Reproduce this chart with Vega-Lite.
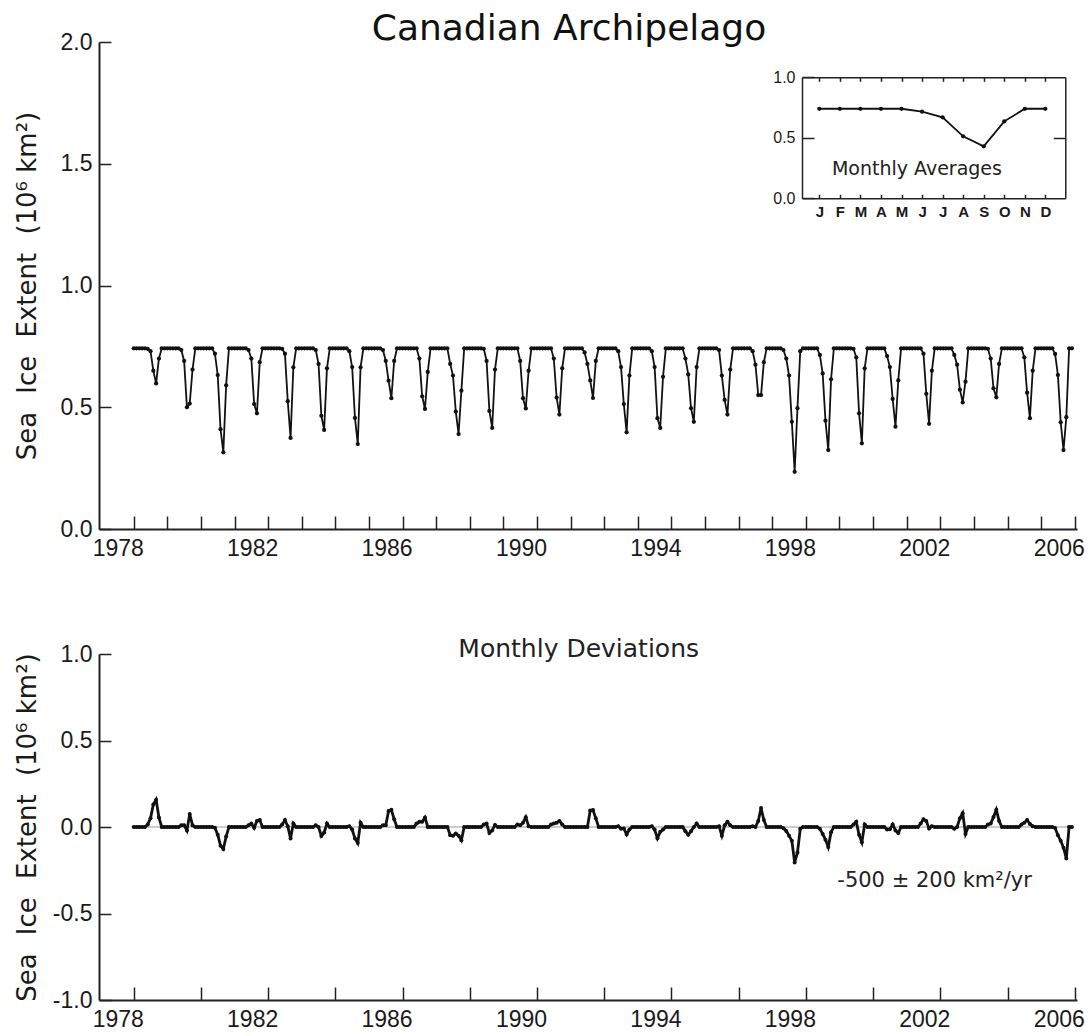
{
"$schema": "https://vega.github.io/schema/vega-lite/v6.json",
"background": "white",
"padding": {"left": 13, "top": 11, "right": 0, "bottom": 0},
"spacing": 77,
"config": {
  "view": {"stroke": null},
  "axis": {"grid": false, "domainColor": "#222", "tickColor": "#222", "labelColor": "#1a1a1a", "titleColor": "#1a1a1a", "labelFont": "Liberation Sans", "titleFont": "DejaVu Sans", "titleFontWeight": "normal", "domainWidth": 2, "tickWidth": 1.5, "labelFlush": false, "labelOverlap": false, "labelBound": false}
},
"datasets": {
"one": [{}],
"avg": [{"m":1,"a":0.74},{"m":2,"a":0.74},{"m":3,"a":0.74},{"m":4,"a":0.74},{"m":5,"a":0.74},{"m":6,"a":0.716},{"m":7,"a":0.669},{"m":8,"a":0.512},{"m":9,"a":0.43},{"m":10,"a":0.636},{"m":11,"a":0.74},{"m":12,"a":0.74}],
"ice": [
{"t":1978,"e":0.742,"d":0},{"t":1978.0833,"e":0.742,"d":0},{"t":1978.1667,"e":0.742,"d":0},{"t":1978.25,"e":0.742,"d":0},{"t":1978.3333,"e":0.742,"d":0},{"t":1978.4167,"e":0.74,"d":0.015},{"t":1978.5,"e":0.73,"d":0.05},{"t":1978.5833,"e":0.65,"d":0.13},{"t":1978.6667,"e":0.598,"d":0.158},{"t":1978.75,"e":0.7,"d":0.055},{"t":1978.8333,"e":0.742,"d":0},{"t":1978.9167,"e":0.742,"d":0},
{"t":1979,"e":0.742,"d":0},{"t":1979.0833,"e":0.742,"d":0},{"t":1979.1667,"e":0.742,"d":0},{"t":1979.25,"e":0.742,"d":0},{"t":1979.3333,"e":0.742,"d":0},{"t":1979.4167,"e":0.735,"d":0.01},{"t":1979.5,"e":0.69,"d":0.01},{"t":1979.5833,"e":0.5,"d":-0.02},{"t":1979.6667,"e":0.515,"d":0.075},{"t":1979.75,"e":0.655,"d":0.01},{"t":1979.8333,"e":0.742,"d":0},{"t":1979.9167,"e":0.742,"d":0},
{"t":1980,"e":0.742,"d":0},{"t":1980.0833,"e":0.742,"d":0},{"t":1980.1667,"e":0.742,"d":0},{"t":1980.25,"e":0.742,"d":0},{"t":1980.3333,"e":0.742,"d":0},{"t":1980.4167,"e":0.72,"d":-0.005},{"t":1980.5,"e":0.632,"d":-0.045},{"t":1980.5833,"e":0.41,"d":-0.108},{"t":1980.6667,"e":0.315,"d":-0.127},{"t":1980.75,"e":0.59,"d":-0.055},{"t":1980.8333,"e":0.742,"d":0},{"t":1980.9167,"e":0.742,"d":0},
{"t":1981,"e":0.742,"d":0},{"t":1981.0833,"e":0.742,"d":0},{"t":1981.1667,"e":0.742,"d":0},{"t":1981.25,"e":0.742,"d":0},{"t":1981.3333,"e":0.742,"d":0},{"t":1981.4167,"e":0.735,"d":0.01},{"t":1981.5,"e":0.7,"d":0.02},{"t":1981.5833,"e":0.513,"d":-0.005},{"t":1981.6667,"e":0.475,"d":0.035},{"t":1981.75,"e":0.685,"d":0.04},{"t":1981.8333,"e":0.742,"d":0},{"t":1981.9167,"e":0.742,"d":0},
{"t":1982,"e":0.742,"d":0},{"t":1982.0833,"e":0.742,"d":0},{"t":1982.1667,"e":0.742,"d":0},{"t":1982.25,"e":0.742,"d":0},{"t":1982.3333,"e":0.742,"d":0},{"t":1982.4167,"e":0.74,"d":0.015},{"t":1982.5,"e":0.72,"d":0.04},{"t":1982.5833,"e":0.525,"d":0.005},{"t":1982.6667,"e":0.374,"d":-0.066},{"t":1982.75,"e":0.664,"d":0.02},{"t":1982.8333,"e":0.742,"d":0},{"t":1982.9167,"e":0.742,"d":0},
{"t":1983,"e":0.742,"d":0},{"t":1983.0833,"e":0.742,"d":0},{"t":1983.1667,"e":0.742,"d":0},{"t":1983.25,"e":0.742,"d":0},{"t":1983.3333,"e":0.742,"d":0},{"t":1983.4167,"e":0.735,"d":0.01},{"t":1983.5,"e":0.678,"d":0},{"t":1983.5833,"e":0.465,"d":-0.052},{"t":1983.6667,"e":0.407,"d":-0.032},{"t":1983.75,"e":0.66,"d":0.02},{"t":1983.8333,"e":0.742,"d":0},{"t":1983.9167,"e":0.742,"d":0},
{"t":1984,"e":0.742,"d":0},{"t":1984.0833,"e":0.742,"d":0},{"t":1984.1667,"e":0.742,"d":0},{"t":1984.25,"e":0.742,"d":0},{"t":1984.3333,"e":0.742,"d":0},{"t":1984.4167,"e":0.73,"d":0.005},{"t":1984.5,"e":0.665,"d":-0.015},{"t":1984.5833,"e":0.456,"d":-0.066},{"t":1984.6667,"e":0.349,"d":-0.093},{"t":1984.75,"e":0.664,"d":0.025},{"t":1984.8333,"e":0.742,"d":0},{"t":1984.9167,"e":0.742,"d":0},
{"t":1985,"e":0.742,"d":0},{"t":1985.0833,"e":0.742,"d":0},{"t":1985.1667,"e":0.742,"d":0},{"t":1985.25,"e":0.742,"d":0},{"t":1985.3333,"e":0.742,"d":0},{"t":1985.4167,"e":0.735,"d":0.01},{"t":1985.5,"e":0.69,"d":0.01},{"t":1985.5833,"e":0.609,"d":0.092},{"t":1985.6667,"e":0.537,"d":0.099},{"t":1985.75,"e":0.69,"d":0.045},{"t":1985.8333,"e":0.742,"d":0},{"t":1985.9167,"e":0.742,"d":0},
{"t":1986,"e":0.742,"d":0},{"t":1986.0833,"e":0.742,"d":0},{"t":1986.1667,"e":0.742,"d":0},{"t":1986.25,"e":0.742,"d":0},{"t":1986.3333,"e":0.742,"d":0},{"t":1986.4167,"e":0.742,"d":0.02},{"t":1986.5,"e":0.7,"d":0.03},{"t":1986.5833,"e":0.545,"d":0.03},{"t":1986.6667,"e":0.493,"d":0.055},{"t":1986.75,"e":0.645,"d":0},{"t":1986.8333,"e":0.742,"d":0},{"t":1986.9167,"e":0.742,"d":0},
{"t":1987,"e":0.742,"d":0},{"t":1987.0833,"e":0.742,"d":0},{"t":1987.1667,"e":0.742,"d":0},{"t":1987.25,"e":0.742,"d":0},{"t":1987.3333,"e":0.742,"d":0},{"t":1987.4167,"e":0.678,"d":-0.047},{"t":1987.5,"e":0.63,"d":-0.05},{"t":1987.5833,"e":0.482,"d":-0.038},{"t":1987.6667,"e":0.39,"d":-0.05},{"t":1987.75,"e":0.568,"d":-0.077},{"t":1987.8333,"e":0.742,"d":0},{"t":1987.9167,"e":0.742,"d":0},
{"t":1988,"e":0.742,"d":0},{"t":1988.0833,"e":0.742,"d":0},{"t":1988.1667,"e":0.742,"d":0},{"t":1988.25,"e":0.742,"d":0},{"t":1988.3333,"e":0.742,"d":0},{"t":1988.4167,"e":0.74,"d":0.015},{"t":1988.5,"e":0.69,"d":0.02},{"t":1988.5833,"e":0.485,"d":-0.035},{"t":1988.6667,"e":0.415,"d":-0.02},{"t":1988.75,"e":0.655,"d":0.012},{"t":1988.8333,"e":0.742,"d":0},{"t":1988.9167,"e":0.742,"d":0},
{"t":1989,"e":0.742,"d":0},{"t":1989.0833,"e":0.742,"d":0},{"t":1989.1667,"e":0.742,"d":0},{"t":1989.25,"e":0.742,"d":0},{"t":1989.3333,"e":0.742,"d":0},{"t":1989.4167,"e":0.742,"d":0.015},{"t":1989.5,"e":0.69,"d":0.01},{"t":1989.5833,"e":0.537,"d":0.025},{"t":1989.6667,"e":0.495,"d":0.057},{"t":1989.75,"e":0.65,"d":0.005},{"t":1989.8333,"e":0.742,"d":0},{"t":1989.9167,"e":0.742,"d":0},
{"t":1990,"e":0.742,"d":0},{"t":1990.0833,"e":0.742,"d":0},{"t":1990.1667,"e":0.742,"d":0},{"t":1990.25,"e":0.742,"d":0},{"t":1990.3333,"e":0.742,"d":0},{"t":1990.4167,"e":0.742,"d":0.015},{"t":1990.5,"e":0.7,"d":0.02},{"t":1990.5833,"e":0.54,"d":0.025},{"t":1990.6667,"e":0.47,"d":0.035},{"t":1990.75,"e":0.66,"d":0.015},{"t":1990.8333,"e":0.742,"d":0},{"t":1990.9167,"e":0.742,"d":0},
{"t":1991,"e":0.742,"d":0},{"t":1991.0833,"e":0.742,"d":0},{"t":1991.1667,"e":0.742,"d":0},{"t":1991.25,"e":0.742,"d":0},{"t":1991.3333,"e":0.742,"d":0},{"t":1991.4167,"e":0.725,"d":0},{"t":1991.5,"e":0.678,"d":0},{"t":1991.5833,"e":0.61,"d":0.095},{"t":1991.6667,"e":0.538,"d":0.098},{"t":1991.75,"e":0.69,"d":0.05},{"t":1991.8333,"e":0.742,"d":0},{"t":1991.9167,"e":0.742,"d":0},
{"t":1992,"e":0.742,"d":0},{"t":1992.0833,"e":0.742,"d":0},{"t":1992.1667,"e":0.742,"d":0},{"t":1992.25,"e":0.742,"d":0},{"t":1992.3333,"e":0.742,"d":0},{"t":1992.4167,"e":0.73,"d":0.005},{"t":1992.5,"e":0.665,"d":-0.01},{"t":1992.5833,"e":0.513,"d":-0.008},{"t":1992.6667,"e":0.397,"d":-0.043},{"t":1992.75,"e":0.63,"d":-0.015},{"t":1992.8333,"e":0.742,"d":0},{"t":1992.9167,"e":0.742,"d":0},
{"t":1993,"e":0.742,"d":0},{"t":1993.0833,"e":0.742,"d":0},{"t":1993.1667,"e":0.742,"d":0},{"t":1993.25,"e":0.742,"d":0},{"t":1993.3333,"e":0.742,"d":0},{"t":1993.4167,"e":0.73,"d":0.005},{"t":1993.5,"e":0.665,"d":-0.015},{"t":1993.5833,"e":0.455,"d":-0.065},{"t":1993.6667,"e":0.415,"d":-0.028},{"t":1993.75,"e":0.625,"d":-0.015},{"t":1993.8333,"e":0.742,"d":0},{"t":1993.9167,"e":0.742,"d":0},
{"t":1994,"e":0.742,"d":0},{"t":1994.0833,"e":0.742,"d":0},{"t":1994.1667,"e":0.742,"d":0},{"t":1994.25,"e":0.742,"d":0},{"t":1994.3333,"e":0.742,"d":0},{"t":1994.4167,"e":0.7,"d":-0.025},{"t":1994.5,"e":0.635,"d":-0.045},{"t":1994.5833,"e":0.496,"d":-0.024},{"t":1994.6667,"e":0.44,"d":0},{"t":1994.75,"e":0.665,"d":0.02},{"t":1994.8333,"e":0.742,"d":0},{"t":1994.9167,"e":0.742,"d":0},
{"t":1995,"e":0.742,"d":0},{"t":1995.0833,"e":0.742,"d":0},{"t":1995.1667,"e":0.742,"d":0},{"t":1995.25,"e":0.742,"d":0},{"t":1995.3333,"e":0.742,"d":0},{"t":1995.4167,"e":0.735,"d":0.005},{"t":1995.5,"e":0.63,"d":-0.05},{"t":1995.5833,"e":0.53,"d":0.01},{"t":1995.6667,"e":0.47,"d":0.03},{"t":1995.75,"e":0.655,"d":0.01},{"t":1995.8333,"e":0.742,"d":0},{"t":1995.9167,"e":0.742,"d":0},
{"t":1996,"e":0.742,"d":0},{"t":1996.0833,"e":0.742,"d":0},{"t":1996.1667,"e":0.742,"d":0},{"t":1996.25,"e":0.742,"d":0},{"t":1996.3333,"e":0.742,"d":0},{"t":1996.4167,"e":0.73,"d":0.005},{"t":1996.5,"e":0.675,"d":0},{"t":1996.5833,"e":0.55,"d":0.035},{"t":1996.6667,"e":0.55,"d":0.11},{"t":1996.75,"e":0.685,"d":0.04},{"t":1996.8333,"e":0.742,"d":0},{"t":1996.9167,"e":0.742,"d":0},
{"t":1997,"e":0.742,"d":0},{"t":1997.0833,"e":0.742,"d":0},{"t":1997.1667,"e":0.742,"d":0},{"t":1997.25,"e":0.742,"d":0},{"t":1997.3333,"e":0.735,"d":-0.007},{"t":1997.4167,"e":0.7,"d":-0.023},{"t":1997.5,"e":0.63,"d":-0.05},{"t":1997.5833,"e":0.44,"d":-0.08},{"t":1997.6667,"e":0.235,"d":-0.205},{"t":1997.75,"e":0.496,"d":-0.148},{"t":1997.8333,"e":0.73,"d":-0.01},{"t":1997.9167,"e":0.742,"d":0},
{"t":1998,"e":0.742,"d":0},{"t":1998.0833,"e":0.742,"d":0},{"t":1998.1667,"e":0.742,"d":0},{"t":1998.25,"e":0.742,"d":0},{"t":1998.3333,"e":0.742,"d":0},{"t":1998.4167,"e":0.715,"d":-0.01},{"t":1998.5,"e":0.639,"d":-0.04},{"t":1998.5833,"e":0.445,"d":-0.073},{"t":1998.6667,"e":0.324,"d":-0.116},{"t":1998.75,"e":0.615,"d":-0.03},{"t":1998.8333,"e":0.742,"d":0},{"t":1998.9167,"e":0.742,"d":0},
{"t":1999,"e":0.742,"d":0},{"t":1999.0833,"e":0.742,"d":0},{"t":1999.1667,"e":0.742,"d":0},{"t":1999.25,"e":0.742,"d":0},{"t":1999.3333,"e":0.742,"d":0},{"t":1999.4167,"e":0.74,"d":0.015},{"t":1999.5,"e":0.705,"d":0.03},{"t":1999.5833,"e":0.475,"d":-0.045},{"t":1999.6667,"e":0.352,"d":-0.088},{"t":1999.75,"e":0.66,"d":0.015},{"t":1999.8333,"e":0.742,"d":0},{"t":1999.9167,"e":0.742,"d":0},
{"t":2000,"e":0.742,"d":0},{"t":2000.0833,"e":0.742,"d":0},{"t":2000.1667,"e":0.742,"d":0},{"t":2000.25,"e":0.742,"d":0},{"t":2000.3333,"e":0.742,"d":0},{"t":2000.4167,"e":0.71,"d":-0.015},{"t":2000.5,"e":0.665,"d":-0.013},{"t":2000.5833,"e":0.534,"d":0.014},{"t":2000.6667,"e":0.42,"d":-0.02},{"t":2000.75,"e":0.61,"d":-0.035},{"t":2000.8333,"e":0.742,"d":0},{"t":2000.9167,"e":0.742,"d":0},
{"t":2001,"e":0.742,"d":0},{"t":2001.0833,"e":0.742,"d":0},{"t":2001.1667,"e":0.742,"d":0},{"t":2001.25,"e":0.742,"d":0},{"t":2001.3333,"e":0.742,"d":0},{"t":2001.4167,"e":0.742,"d":0.02},{"t":2001.5,"e":0.72,"d":0.045},{"t":2001.5833,"e":0.555,"d":0.035},{"t":2001.6667,"e":0.432,"d":-0.008},{"t":2001.75,"e":0.65,"d":0.005},{"t":2001.8333,"e":0.742,"d":0},{"t":2001.9167,"e":0.742,"d":0},
{"t":2002,"e":0.742,"d":0},{"t":2002.0833,"e":0.742,"d":0},{"t":2002.1667,"e":0.742,"d":0},{"t":2002.25,"e":0.742,"d":0},{"t":2002.3333,"e":0.742,"d":0},{"t":2002.4167,"e":0.715,"d":-0.01},{"t":2002.5,"e":0.675,"d":0},{"t":2002.5833,"e":0.572,"d":0.05},{"t":2002.6667,"e":0.52,"d":0.08},{"t":2002.75,"e":0.605,"d":-0.04},{"t":2002.8333,"e":0.742,"d":0},{"t":2002.9167,"e":0.742,"d":0},
{"t":2003,"e":0.742,"d":0},{"t":2003.0833,"e":0.742,"d":0},{"t":2003.1667,"e":0.742,"d":0},{"t":2003.25,"e":0.742,"d":0},{"t":2003.3333,"e":0.742,"d":0},{"t":2003.4167,"e":0.74,"d":0.015},{"t":2003.5,"e":0.7,"d":0.02},{"t":2003.5833,"e":0.578,"d":0.058},{"t":2003.6667,"e":0.541,"d":0.1},{"t":2003.75,"e":0.678,"d":0.035},{"t":2003.8333,"e":0.742,"d":0},{"t":2003.9167,"e":0.742,"d":0},
{"t":2004,"e":0.742,"d":0},{"t":2004.0833,"e":0.742,"d":0},{"t":2004.1667,"e":0.742,"d":0},{"t":2004.25,"e":0.742,"d":0},{"t":2004.3333,"e":0.742,"d":0},{"t":2004.4167,"e":0.742,"d":0.015},{"t":2004.5,"e":0.705,"d":0.025},{"t":2004.5833,"e":0.56,"d":0.04},{"t":2004.6667,"e":0.455,"d":0.018},{"t":2004.75,"e":0.65,"d":0.005},{"t":2004.8333,"e":0.742,"d":0},{"t":2004.9167,"e":0.742,"d":0},
{"t":2005,"e":0.742,"d":0},{"t":2005.0833,"e":0.742,"d":0},{"t":2005.1667,"e":0.742,"d":0},{"t":2005.25,"e":0.742,"d":0},{"t":2005.3333,"e":0.742,"d":0},{"t":2005.4167,"e":0.719,"d":-0.006},{"t":2005.5,"e":0.632,"d":-0.048},{"t":2005.5833,"e":0.438,"d":-0.08},{"t":2005.6667,"e":0.324,"d":-0.12},{"t":2005.75,"e":0.459,"d":-0.182},{"t":2005.8333,"e":0.742,"d":0},{"t":2005.9167,"e":0.742,"d":0}
]
},
"vconcat": [
{
  "width": 978,
  "height": 487,
  "title": {"text": "Canadian Archipelago", "font": "DejaVu Sans", "fontSize": 36, "fontWeight": "normal", "color": "#111", "anchor": "middle", "frame": "group", "dx": -19, "offset": -17},
  "layer": [
    {
      "data": {"name": "ice"},
      "mark": {"type": "line", "color": "#111", "strokeWidth": 1.8, "point": {"filled": true, "size": 18, "color": "#111"}},
      "encoding": {
        "x": {"field": "t", "type": "quantitative",
              "scale": {"domain": [1976.967, 2006.068], "nice": false, "zero": false},
              "axis": {"orient": "bottom", "title": null, "values": [1978,1979,1980,1981,1982,1983,1984,1985,1986,1987,1988,1989,1990,1991,1992,1993,1994,1995,1996,1997,1998,1999,2000,2001,2002,2003,2004,2005,2006],
                       "labelExpr": "(datum.value - 1978) % 4 == 0 ? '' + datum.value : ''",
                       "tickSize": -13, "labelPadding": 21, "labelOffset": -16, "labelFontSize": 23}},
        "y": {"field": "e", "type": "quantitative",
              "scale": {"domain": [0, 2], "nice": false, "zero": false},
              "axis": {"orient": "left", "values": [0, 0.5, 1, 1.5, 2], "format": ".1f", "tickSize": -12, "labelPadding": 19, "labelFontSize": 23,
                       "title": "Sea\u2002\u2009Ice\u2002\u2009Extent\u2002\u2009(10⁶ km²)", "titleFontSize": 26, "titleX": -64, "titleBaseline": "alphabetic"}}
      }
    },
    {
      "layer": [
        {
          "data": {"name": "avg"},
          "mark": {"type": "line", "color": "#111", "strokeWidth": 1.8, "point": {"filled": true, "size": 18, "color": "#111"}},
          "encoding": {
            "x": {"field": "m", "type": "quantitative",
                  "scale": {"domain": [0.158, 12.97], "range": [703, 966.3], "nice": false, "zero": false},
                  "axis": {"orient": "bottom", "offset": -330.7, "title": null, "values": [1,2,3,4,5,6,7,8,9,10,11,12],
                           "labelExpr": "['J','F','M','A','M','J','J','A','S','O','N','D'][datum.value - 1]",
                           "tickSize": -4, "labelPadding": 10, "labelFontSize": 15, "labelFontWeight": "bold", "domainWidth": 1.5}},
            "y": {"field": "a", "type": "quantitative",
                  "scale": {"domain": [0, 1], "range": [156.3, 35.3], "nice": false, "zero": false},
                  "axis": {"orient": "left", "offset": -703, "title": null, "values": [0, 0.5, 1], "format": ".1f",
                           "tickSize": -12, "labelPadding": 19, "labelFontSize": 16, "domainWidth": 1.5}}
          }
        },
        {
          "data": {"name": "one"},
          "mark": {"type": "text", "font": "DejaVu Sans", "fontSize": 19, "fontWeight": "normal", "color": "#222", "align": "center", "baseline": "middle"},
          "encoding": {
            "x": {"datum": 5.75, "type": "quantitative",
                  "axis": {"orient": "top", "offset": -35.3, "title": null, "values": [1,2,3,4,5,6,7,8,9,10,11,12], "labels": false, "tickSize": -4, "domainWidth": 1.5}},
            "y": {"datum": 0.24, "type": "quantitative",
                  "axis": {"orient": "right", "offset": -11.7, "title": null, "values": [0.5], "labels": false, "tickSize": -12, "domainWidth": 1.5}},
            "text": {"value": "Monthly Averages"}
          }
        }
      ],
      "resolve": {"axis": {"x": "independent", "y": "independent"}}
    }
  ],
  "resolve": {"scale": {"x": "independent", "y": "independent"}, "axis": {"x": "independent", "y": "independent"}}
},
{
  "width": 978,
  "height": 346,
  "layer": [
    {
      "data": {"name": "one"},
      "mark": {"type": "rule", "color": "#999", "strokeWidth": 1},
      "encoding": {
        "x": {"datum": 1978, "type": "quantitative"},
        "x2": {"datum": 2005.95},
        "y": {"datum": 0, "type": "quantitative"}
      }
    },
    {
      "data": {"name": "ice"},
      "mark": {"type": "line", "color": "#111", "strokeWidth": 2.8, "point": {"filled": true, "size": 16, "color": "#111"}},
      "encoding": {
        "x": {"field": "t", "type": "quantitative",
              "scale": {"domain": [1976.967, 2006.068], "nice": false, "zero": false},
              "axis": {"orient": "bottom", "title": null, "values": [1978,1979,1980,1981,1982,1983,1984,1985,1986,1987,1988,1989,1990,1991,1992,1993,1994,1995,1996,1997,1998,1999,2000,2001,2002,2003,2004,2005,2006],
                       "labelExpr": "(datum.value - 1978) % 4 == 0 ? '' + datum.value : ''",
                       "tickSize": -13, "labelPadding": 21, "labelOffset": -16, "labelFontSize": 23}},
        "y": {"field": "d", "type": "quantitative",
              "scale": {"domain": [-1, 1], "nice": false, "zero": false},
              "axis": {"orient": "left", "values": [-1, -0.5, 0, 0.5, 1], "labelExpr": "replace(format(datum.value, '.1f'), '\u2212', '-')",
                       "tickSize": -12, "labelPadding": 19, "labelFontSize": 23,
                       "title": "Sea\u2002\u2009Ice\u2002\u2009Extent\u2002\u2009(10⁶ km²)", "titleFontSize": 26, "titleX": -64, "titleBaseline": "alphabetic"}}
      }
    },
    {
      "data": {"name": "one"},
      "mark": {"type": "text", "font": "DejaVu Sans", "fontSize": 25, "fontWeight": "normal", "color": "#222", "align": "center", "baseline": "middle"},
      "encoding": {
        "x": {"datum": 1991.24, "type": "quantitative"},
        "y": {"datum": 1.028, "type": "quantitative"},
        "text": {"value": "Monthly Deviations"}
      }
    },
    {
      "data": {"name": "one"},
      "mark": {"type": "text", "font": "DejaVu Sans", "fontSize": 21, "fontWeight": "normal", "color": "#222", "align": "center", "baseline": "middle"},
      "encoding": {
        "x": {"datum": 2001.83, "type": "quantitative"},
        "y": {"datum": -0.31, "type": "quantitative"},
        "text": {"value": "-500 ± 200 km²/yr"}
      }
    }
  ]
}
]
}
